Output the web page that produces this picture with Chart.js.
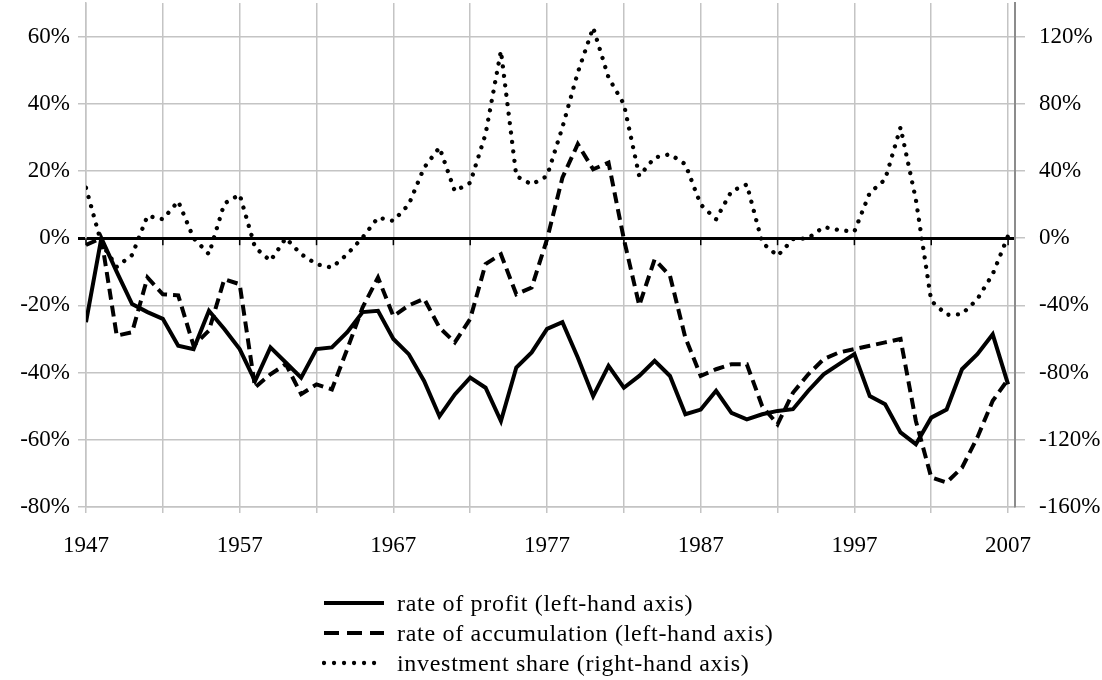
<!DOCTYPE html>
<html>
<head>
<meta charset="utf-8">
<script src="https://cdn.jsdelivr.net/npm/chart.js@4.4.0/dist/chart.umd.min.js"></script>
<style>
    body { margin: 0; background: #fff; }
    #wrap { position: relative; width: 1102px; height: 680px; }
    #legend { position: absolute; left: 322px; top: 588px; font-family: "Liberation Serif", serif; font-size: 24px; letter-spacing: 0.7px; color: #000; }
    #legend .row { display: flex; align-items: center; height: 30px; }
    #legend svg { margin-right: 11px; }
</style>
</head>
<body>
<div id="wrap">
    <canvas id="myChart" width="1102" height="680"></canvas>
    <div id="legend"></div>
</div>
<script>
// years on the x axis
let years = [1947, 1948, 1949, 1950, 1951, 1952, 1953, 1954, 1955, 1956,
    1957, 1958, 1959, 1960, 1961, 1962, 1963, 1964, 1965, 1966,
    1967, 1968, 1969, 1970, 1971, 1972, 1973, 1974, 1975, 1976,
    1977, 1978, 1979, 1980, 1981, 1982, 1983, 1984, 1985, 1986,
    1987, 1988, 1989, 1990, 1991, 1992, 1993, 1994, 1995, 1996,
    1997, 1998, 1999, 2000, 2001, 2002, 2003, 2004, 2005, 2006, 2007]

// left-hand axis, in %
let profit = [-25, 0, -10, -19.6, -22, -24, -32, -33, -21.6, -27,
    -33, -42.5, -32.5, -37, -41.5, -33, -32.5, -28, -22, -21.6,
    -30, -34.5, -42.5, -53, -46.5, -41.5, -44.5, -54.4, -38.5, -34,
    -27, -25, -35.5, -47, -38, -44.5, -41, -36.5, -41, -52.4,
    -51, -45.4, -52, -53.9, -52.4, -51.4, -50.9, -45.4, -40.5, -37.5,
    -34.5, -47, -49.4, -57.8, -61.3, -53.4, -51, -39, -34.5, -28.6, -43.5]

let accumulation = [-2, 0, -29, -28, -11.7, -16.7, -17, -32, -27.5, -12.2,
    -13.7, -44.4, -40.5, -37.5, -46.4, -43.5, -45, -33, -20.6, -11.7,
    -23.2, -20, -18, -26.6, -31, -24, -7.7, -4.8, -16.7, -14.7,
    -0.3, 18, 28, 20.5, 22.5, -0.3, -20, -6.3, -11.2, -29.6,
    -41, -39, -37.5, -37.5, -50, -55.4, -46, -40.5, -36, -34,
    -33, -32, -31, -30, -54.4, -71.2, -72.7, -68.3, -59.3, -48.4, -42]

// right-hand axis, in %
let investment = [30, -3, -17, -10, 13.3, 11.3, 22, 0, -9.5, 20.6,
    26, -5.5, -13.5, 0, -9.5, -15.5, -17.5, -9.5, 0.4, 12.3,
    10.3, 20, 42, 54, 28, 33, 62, 111.5, 37, 32,
    37, 66, 98.6, 125.4, 95.6, 79.8, 37, 48, 50, 44,
    20, 11.3, 28, 32, -2.6, -10.5, -0.6, 0, 6.7, 4.8,
    4, 27, 35, 66, 23, -37.3, -45.6, -45.2, -36.3, -21.4, 1.4]

let seriesLabels = ['rate of profit (left-hand axis)', 'rate of accumulation (left-hand axis)', 'investment share (right-hand axis)']

let gridYears = [1947, 1952, 1957, 1962, 1967, 1972, 1977, 1982, 1987, 1992, 1997, 2002, 2007]
let labelYears = [1947, 1957, 1967, 1977, 1987, 1997, 2007]
let leftTicks = [-80, -60, -40, -20, 0, 20, 40, 60]
let rightTicks = [-160, -120, -80, -40, 0, 40, 80, 120]

function points(values) {
    return years.map(function (yr, i) { return { x: yr, y: values[i] } })
}

// chart.js pads the plot area for half a label; the reference plot runs to the edges
function noPadding(scale) {
    scale.paddingTop = 0
    scale.paddingBottom = 0
    scale.paddingLeft = 0
    scale.paddingRight = 0
}

// little tick marks hanging under the 0% line, like an excel axis crossing at zero
const zeroAxisTicks = {
    id: 'zeroAxisTicks',
    beforeDatasetsDraw: function (chart) {
        let ctx = chart.ctx
        let xs = chart.scales.x
        let y0 = chart.scales.y.getPixelForValue(0)
        ctx.save()
        ctx.strokeStyle = '#000'
        ctx.lineWidth = 1.5
        gridYears.forEach(function (yr) {
            let px = xs.getPixelForValue(yr)
            ctx.beginPath()
            ctx.moveTo(px, y0)
            ctx.lineTo(px, y0 + 7)
            ctx.stroke()
        })
        ctx.restore()
    }
}

const tickFont = { family: '"Liberation Serif", serif', size: 23 }
const gridGray = '#c4c4c4'

let currChart = document.getElementById('myChart').getContext('2d')

let lineChart = new Chart(currChart, {
    type: 'line',
    data: {
        datasets: [{
            label: seriesLabels[0],
            data: points(profit),
            borderColor: '#000',
            borderWidth: 4,
            pointRadius: 0,
            yAxisID: 'y',
        }, {
            label: seriesLabels[1],
            data: points(accumulation),
            borderColor: '#000',
            borderWidth: 4,
            borderDash: [11, 6],
            pointRadius: 0,
            yAxisID: 'y',
        }, {
            label: seriesLabels[2],
            data: points(investment),
            borderColor: '#000',
            borderWidth: 4.3,
            borderDash: [0.01, 9.5],
            borderCapStyle: 'round',
            pointRadius: 0,
            yAxisID: 'y2',
        }]
    },
    options: {
        responsive: false,
        animation: false,
        layout: { padding: { top: 3 } },
        plugins: {
            legend: { display: false },
            tooltip: { enabled: false }
        },
        scales: {
            x: {
                type: 'linear',
                min: 1947,
                max: 2007.45,
                afterBuildTicks: function (scale) {
                    scale.ticks = gridYears.map(function (v) { return { value: v } })
                },
                afterFit: function (scale) { scale.height = 173; noPadding(scale) },
                ticks: {
                    autoSkip: false,
                    maxRotation: 0,
                    padding: 19,
                    color: '#000',
                    font: tickFont,
                    callback: function (v) { return labelYears.includes(v) ? String(v) : '' }
                },
                grid: { color: gridGray, lineWidth: 1.5, tickLength: 6 },
                border: { color: gridGray, width: 1.5 }
            },
            y: {
                position: 'left',
                min: -80,
                max: 70,
                afterBuildTicks: function (scale) {
                    scale.ticks = leftTicks.map(function (v) { return { value: v } })
                },
                afterFit: function (scale) { scale.width = 86; noPadding(scale) },
                ticks: {
                    padding: 8,
                    color: '#000',
                    font: tickFont,
                    callback: function (v) { return v + '%' }
                },
                grid: {
                    tickLength: 8,
                    color: function (c) { return c.tick && c.tick.value === 0 ? '#000' : gridGray },
                    lineWidth: function (c) { return c.tick && c.tick.value === 0 ? 3 : 1.5 }
                },
                border: { color: gridGray, width: 1.5 }
            },
            y2: {
                position: 'right',
                min: -160,
                max: 140,
                afterBuildTicks: function (scale) {
                    scale.ticks = rightTicks.map(function (v) { return { value: v } })
                },
                afterFit: function (scale) { scale.width = 87; noPadding(scale) },
                ticks: {
                    padding: 14,
                    color: '#000',
                    font: tickFont,
                    callback: function (v) { return v + '%' }
                },
                grid: { drawOnChartArea: false, tickLength: 10, color: gridGray, lineWidth: 1.5 },
                border: { color: '#8c8c8c', width: 2 }
            }
        }
    },
    plugins: [zeroAxisTicks]
})

// legend below the chart, one series per row
let legendBox = document.getElementById('legend')
lineChart.data.datasets.forEach(function (ds) {
    let dash = 'none'
    if (ds.yAxisID === 'y2') dash = '0.01 10'
    else if (ds.borderDash) dash = '15 8'
    let row = document.createElement('div')
    row.className = 'row'
    row.innerHTML = '<svg width="64" height="10"><line x1="2" y1="5" x2="62" y2="5" stroke="#000" stroke-width="' +
        ds.borderWidth + '" stroke-dasharray="' + dash + '" stroke-linecap="' +
        (ds.borderCapStyle === 'round' ? 'round' : 'butt') + '"/></svg><span>' + ds.label + '</span>'
    legendBox.appendChild(row)
})
</script>
</body>
</html>
